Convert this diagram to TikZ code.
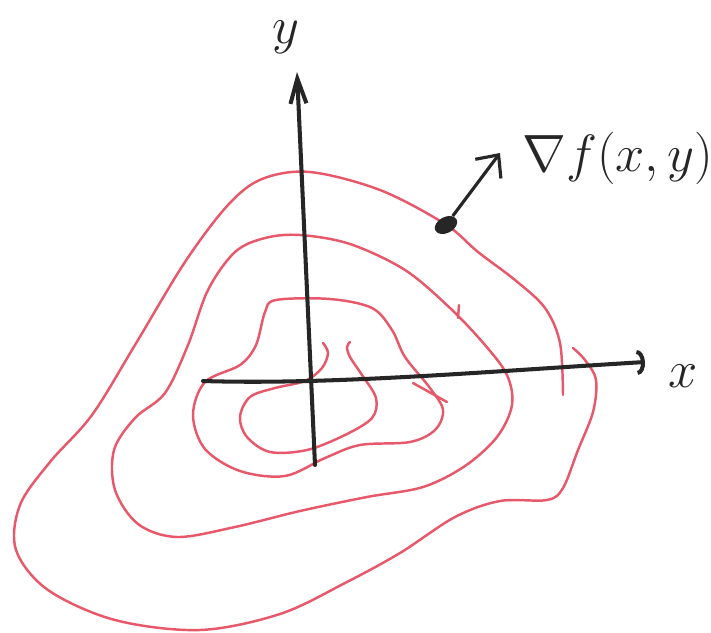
\documentclass[tikz,border=0pt]{standalone}
\usepackage{amsmath}
\usepackage{amsfonts, amssymb}
\usepackage{tikz}
\usetikzlibrary{arrows.meta, shapes.geometric, positioning, calc}
\definecolor{contour}{RGB}{230,88,106}
\definecolor{pen}{RGB}{38,38,38}

\begin{document}
\begin{tikzpicture}[x=0.02cm, y=-0.02cm, font=\Huge,
    level/.style={contour, line width=1.4pt, line cap=round},
    axis/.style={pen, line width=2.3pt, line cap=round},
    label/.style={pen, scale=1.2, inner sep=0pt}]
      \useasboundingbox (0,0) rectangle (711,633);

      % Level curves, drawn by hand so the outer ones stay open
      \draw[level] plot[smooth, tension=0.55] coordinates {(563,395) (560,343) (545,308) (515,280) (478,252) (445,224) (380,190) (310,172) (262,179) (228,205) (185,262) (135,345) (92,415) (50,462) (20,505) (16,550) (48,590) (115,620) (200,630) (280,614) (345,583) (400,553) (455,517) (500,501) (547,500) (563,488) (578,450) (593,412) (596,380) (585,360) (573,348)};
      \draw[level] plot[smooth cycle, tension=0.55] coordinates {(300,235) (350,244) (405,270) (450,308) (485,345) (507,375) (512,405) (497,437) (465,466) (423,487) (367,497) (300,511) (235,527) (177,537) (138,524) (115,490) (114,450) (135,418) (165,393) (188,345) (208,290) (235,252) (265,238)};
      \draw[level] (458,318) -- (459,305);
      \draw[level] plot[smooth cycle, tension=0.55] coordinates {(276,300) (330,299) (372,308) (392,330) (405,357) (430,388) (443,410) (435,430) (410,442) (360,445) (325,458) (285,476) (240,471) (205,449) (193,415) (205,382) (240,365) (256,345) (265,312)};
      \draw[level] (413,383) -- (447,402);
      \draw[level] plot[smooth, tension=0.55] coordinates {(323,343) (328,353) (322,368) (305,381) (275,388) (250,397) (240,417) (247,437) (270,452) (307,450) (345,435) (372,418) (376,398) (362,375) (350,357) (347,347) (350,342)};

      % Axes
      \coordinate (xl) at (203,381);
      \coordinate (xr) at (645,362);
      \coordinate (yb) at (315,465);
      \coordinate (yt) at (297,72);
      \draw[axis, -{Arc Barb[length=1.6mm, width=5mm]}] (xl) .. controls (330,385) and (480,372) .. (xr);
      \draw[axis, -{Straight Barb[length=5mm, width=3.2mm]}] (yb) -- (yt);
      \node[label] (xlab) at (683,376) {$x$};
      \node[label] (ylab) at (286,37) {$y$};

      % Gradient at a point of the outer curve
      \node[ellipse, fill=pen, minimum width=0.48cm, minimum height=0.32cm, inner sep=0pt, rotate=28] (dot) at (446,225) {};
      \coordinate (tip) at (500,153);
      \draw[pen, line width=1.8pt, -{Straight Barb[length=3.5mm, width=6.4mm]}] (dot) -- (tip);
      \node[label, anchor=west] (grad) at (522,158) {$\nabla f(x,y)$};
\end{tikzpicture}
\end{document}
